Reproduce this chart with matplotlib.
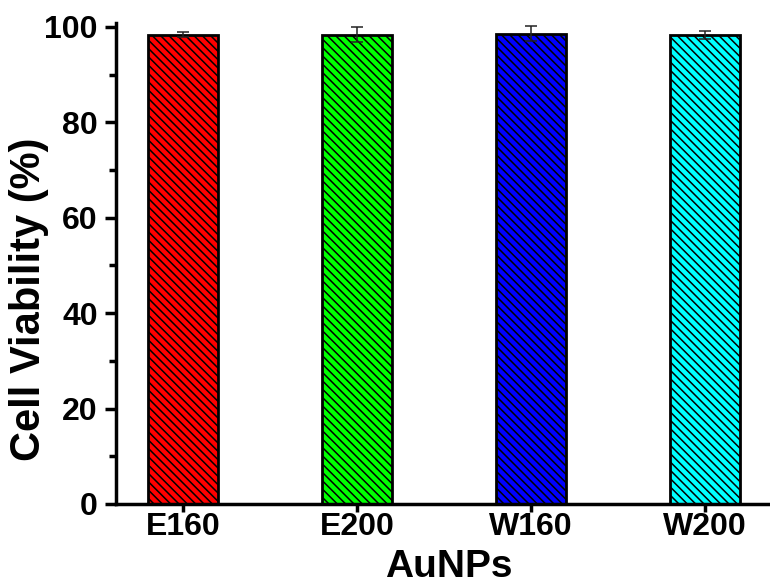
import matplotlib
matplotlib.use("Agg")
from matplotlib import pyplot as plt

samples = ["E160", "E200", "W160", "W200"]
viability = [98.4, 98.4, 98.6, 98.3]
errors = [0.6, 1.6, 1.5, 0.9]
colors = ["#ff0000", "#00ff00", "#0000ff", "#00ffff"]

plt.rcParams['font.family'] = ['Liberation Sans', 'DejaVu Sans']
plt.rcParams['font.weight'] = 'bold'
plt.rcParams['hatch.linewidth'] = 1.1

fig = plt.figure(figsize=(7.7, 5.85), dpi=100)
ax = fig.add_axes([0.1506, 0.1385, 0.852, 0.822])

x = range(len(samples))
ax.bar(x, viability, width=0.4, color=colors, edgecolor='black',
       linewidth=2, hatch='\\\\\\\\', zorder=2)
ax.errorbar(x, viability, yerr=errors, fmt='none', ecolor='#222222',
            elinewidth=1.1, capsize=4, capthick=1.1, zorder=3)

ax.set_xlim(-0.385, 3.385)
ax.set_ylim(0, 100.8)
ax.set_xticks(list(x))
ax.set_xticklabels(samples)
ax.set_yticks([0, 20, 40, 60, 80, 100])
ax.set_yticks([10, 30, 50, 70, 90], minor=True)

for s in ['top', 'right']:
    ax.spines[s].set_visible(False)
for s in ['left', 'bottom']:
    ax.spines[s].set_linewidth(2.5)

ax.tick_params(axis='both', which='major', direction='out', width=2.5, labelsize=23)
ax.tick_params(axis='y', which='major', length=8, pad=5)
ax.tick_params(axis='y', which='minor', direction='out', length=5, width=2.5)
ax.tick_params(axis='x', which='major', length=6, pad=0)

ax.set_ylabel("Cell Viability (%)", fontsize=30, fontweight='bold')
ax.yaxis.set_label_coords(-0.102, 0.426)
ax.set_xlabel("AuNPs", fontsize=28, fontweight='bold')
ax.xaxis.set_label_coords(0.508, -0.094)

fig.savefig("out.png", dpi=100)
